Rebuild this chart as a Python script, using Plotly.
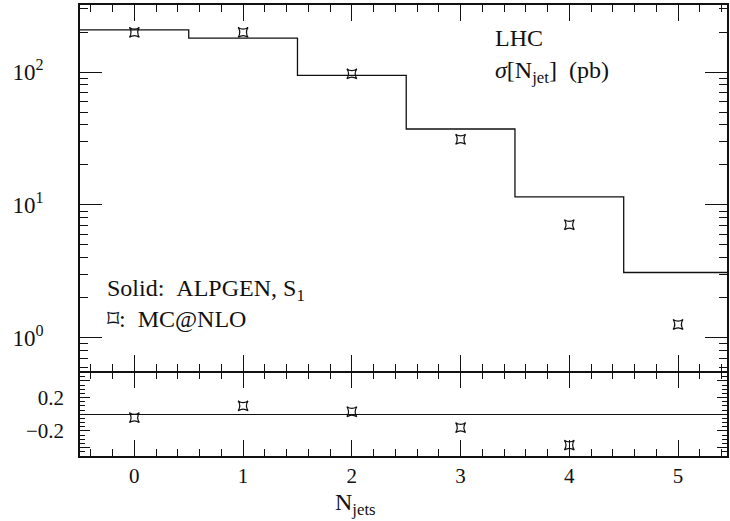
import plotly.graph_objects as go

# Jet multiplicity bins
n_jets = [0, 1, 2, 3, 4, 5]

# ALPGEN cross sections per bin (pb), drawn as a step histogram
alpgen_xsec = [208, 180, 94.5, 37.3, 11.5, 3.1]

# MC@NLO cross sections per bin (pb)
mcnlo_xsec = [199, 199, 97, 31.2, 7.1, 1.26]

# Relative difference shown in the lower panel (bins 0-4)
ratio_bins = [0, 1, 2, 3, 4]
ratio_vals = [-0.04, 0.10, 0.03, -0.16, -0.37]

# Axis tick labels
log_tick_vals = [1, 10, 100]
log_tick_text = ["10<sup>0</sup>", "10<sup>1</sup>", "10<sup>2</sup>"]
ratio_tick_vals = [-0.4, -0.2, 0.2, 0.4]
ratio_tick_text = ["", "\u22120.2", "0.2", ""]

FONT = "Liberation Serif"
INK = "#111111"
W, H = 730, 521

# Histogram edges: each bin spans n-0.5 .. n+0.5
edges = [n - 0.5 for n in n_jets] + [n_jets[-1] + 0.5]
steps = alpgen_xsec + [alpgen_xsec[-1]]

marker_style = dict(symbol="star-square-open", size=9, color=INK,
                    line=dict(width=1.2, color=INK))

fig = go.Figure()

fig.add_trace(go.Scatter(
    x=edges, y=steps, mode="lines", line=dict(color=INK, width=1.3, shape="hv"),
    xaxis="x", yaxis="y", showlegend=False, hoverinfo="skip"))

fig.add_trace(go.Scatter(
    x=n_jets, y=mcnlo_xsec, mode="markers", marker=marker_style,
    xaxis="x", yaxis="y", showlegend=False))

fig.add_trace(go.Scatter(
    x=ratio_bins, y=ratio_vals, mode="markers", marker=marker_style,
    xaxis="x2", yaxis="y2", showlegend=False))

X0, X1 = 80 / W, 727 / W
main_dom = [(H - 371) / H, (H - 5) / H]
low_dom = [(H - 456) / H, (H - 372.5) / H]

xcommon = dict(
    range=[-0.5, 5.45], showline=True, linecolor=INK, linewidth=1.5, mirror="ticks",
    ticks="inside", tickcolor=INK, tickwidth=1.2, ticklen=16, dtick=1, tick0=0,
    showgrid=False, zeroline=False,
    minor=dict(ticks="inside", ticklen=7, dtick=0.2, tick0=0, tickcolor=INK,
               tickwidth=1, showgrid=False),
    domain=[X0, X1],
)

fig.update_layout(
    width=W, height=H,
    margin=dict(l=0, r=0, t=0, b=0),
    paper_bgcolor="white", plot_bgcolor="white",
    font=dict(family=FONT, size=21, color=INK),
    xaxis=dict(**xcommon, anchor="y", showticklabels=False),
    xaxis2=dict(**xcommon, anchor="y2", showticklabels=True,
                tickfont=dict(family=FONT, size=21, color=INK), ticklabelstandoff=0),
    yaxis=dict(
        type="log", range=[-0.25, 2.505], domain=main_dom, anchor="x",
        showline=True, linecolor=INK, linewidth=1.5, mirror="ticks",
        ticks="inside", tickcolor=INK, tickwidth=1.2, ticklen=22,
        tickmode="array", tickvals=log_tick_vals, ticktext=log_tick_text,
        tickfont=dict(family=FONT, size=23, color=INK), ticklabelstandoff=30,
        showgrid=False, zeroline=False,
        minor=dict(ticks="inside", ticklen=8, tickcolor=INK, tickwidth=1, showgrid=False,
                   tickmode="array",
                   tickvals=[m * 10 ** d for d in (-1, 0, 1, 2) for m in range(2, 10)]),
    ),
    yaxis2=dict(
        range=[-0.5, 0.5], domain=low_dom, anchor="x2",
        showline=True, linecolor=INK, linewidth=1.5, mirror="ticks",
        ticks="inside", tickcolor=INK, tickwidth=1.2, ticklen=10,
        tickmode="array", tickvals=ratio_tick_vals, ticktext=ratio_tick_text,
        tickfont=dict(family=FONT, size=21, color=INK), ticklabelstandoff=10,
        showgrid=False, zeroline=True, zerolinecolor=INK, zerolinewidth=1.2,
        minor=dict(ticks="inside", ticklen=5, dtick=0.05, tick0=0, tickcolor=INK,
                   tickwidth=1, showgrid=False),
    ),
)

notes = [
    ("LHC", 493, 38, 24),
    ("<i>σ</i>[N<sub>jet</sub>]\u2002(pb)", 493, 72, 24),
    ("Solid:\u2002ALPGEN, S<sub>1</sub>", 105, 290, 24),
    ("\u2311:\u2002MC@NLO", 105, 319, 24),
    ("N<sub>jets</sub>", 333, 504, 24),
]
for text, px, py, fs in notes:
    fig.add_annotation(text=text, xref="paper", yref="paper",
                       x=px / W, y=1 - py / H, xanchor="left", yanchor="middle",
                       showarrow=False, font=dict(family=FONT, size=fs, color=INK))

fig.write_html("out.html")
